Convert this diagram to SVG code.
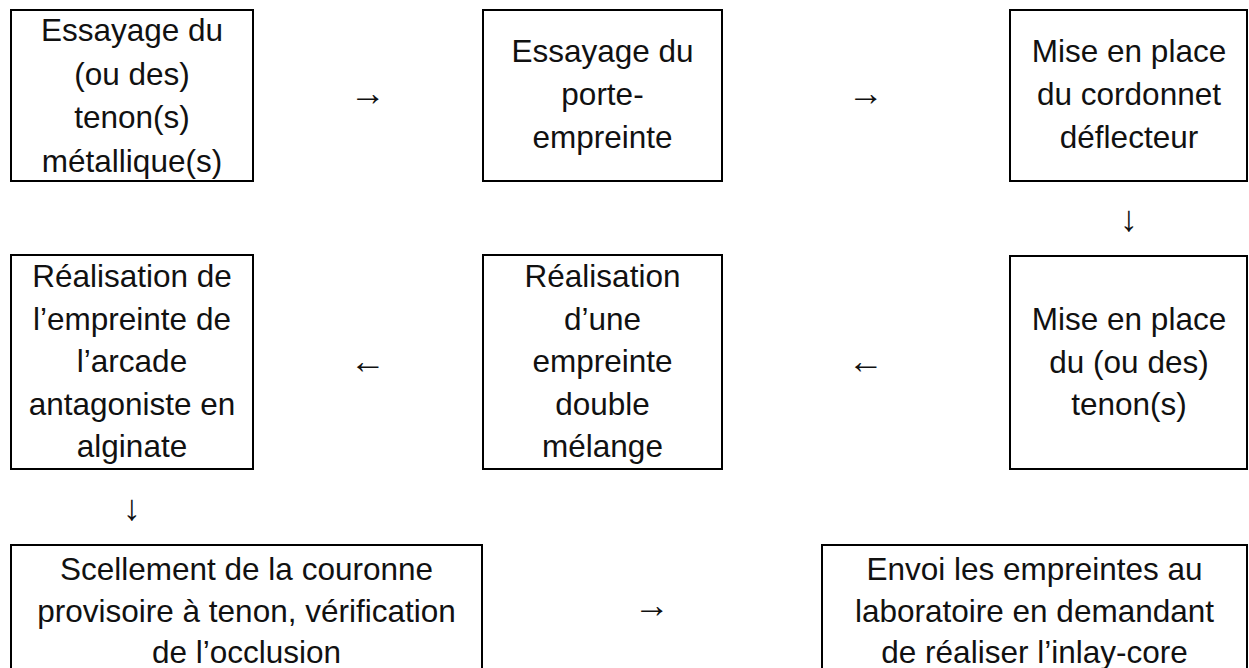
<svg xmlns="http://www.w3.org/2000/svg" width="1249" height="668" viewBox="0 0 1249 668">
  <style>
    .box { fill: #ffffff; stroke: #000000; stroke-width: 2; }
    .lbl { font-family: "Liberation Sans", Arial, sans-serif; font-size: 31.5px; fill: #111111; text-anchor: middle; }
    .arw { font-family: "Liberation Serif", "DejaVu Serif", serif; font-size: 36px; fill: #111111; text-anchor: middle; }
  </style>
  <rect width="1249" height="668" fill="#ffffff"/>

  <!-- Row 1 -->
  <g id="n1">
    <rect class="box" x="11" y="10" width="242" height="171"/>
    <text class="lbl" x="132"><tspan x="132" y="41">Essayage du</tspan><tspan x="132" y="84.5">(ou des)</tspan><tspan x="132" y="128">tenon(s)</tspan><tspan x="132" y="171.5">métallique(s)</tspan></text>
  </g>
  <g id="n2">
    <rect class="box" x="483" y="10" width="239" height="171"/>
    <text class="lbl" x="602.5"><tspan x="602.5" y="62">Essayage du</tspan><tspan x="602.5" y="105">porte-</tspan><tspan x="602.5" y="148">empreinte</tspan></text>
  </g>
  <g id="n3">
    <rect class="box" x="1010" y="10" width="237" height="171"/>
    <text class="lbl" x="1129"><tspan x="1129" y="62">Mise en place</tspan><tspan x="1129" y="105">du cordonnet</tspan><tspan x="1129" y="148">déflecteur</tspan></text>
  </g>

  <!-- Row 2 -->
  <g id="n4">
    <rect class="box" x="11" y="255" width="242" height="214"/>
    <text class="lbl" x="132"><tspan x="132" y="287">Réalisation de</tspan><tspan x="132" y="329.5">l’empreinte de</tspan><tspan x="132" y="372">l’arcade</tspan><tspan x="132" y="414.5">antagoniste en</tspan><tspan x="132" y="457">alginate</tspan></text>
  </g>
  <g id="n5">
    <rect class="box" x="483" y="255" width="239" height="214"/>
    <text class="lbl" x="602.5"><tspan x="602.5" y="287">Réalisation</tspan><tspan x="602.5" y="329.5">d’une</tspan><tspan x="602.5" y="372">empreinte</tspan><tspan x="602.5" y="414.5">double</tspan><tspan x="602.5" y="457">mélange</tspan></text>
  </g>
  <g id="n6">
    <rect class="box" x="1010" y="256" width="237" height="213"/>
    <text class="lbl" x="1129"><tspan x="1129" y="330">Mise en place</tspan><tspan x="1129" y="372.5">du (ou des)</tspan><tspan x="1129" y="415">tenon(s)</tspan></text>
  </g>

  <!-- Row 3 (boxes run past the bottom edge) -->
  <g id="n7">
    <rect class="box" x="11" y="545" width="471" height="140"/>
    <text class="lbl" x="246.5"><tspan x="246.5" y="580">Scellement de la couronne</tspan><tspan x="246.5" y="621.5">provisoire à tenon, vérification</tspan><tspan x="246.5" y="663">de l’occlusion</tspan></text>
  </g>
  <g id="n8">
    <rect class="box" x="822" y="545" width="425" height="140"/>
    <text class="lbl" x="1034.5"><tspan x="1034.5" y="580">Envoi les empreintes au</tspan><tspan x="1034.5" y="621.5">laboratoire en demandant</tspan><tspan x="1034.5" y="663">de réaliser l’inlay-core</tspan></text>
  </g>

  <!-- Connectors: arrow glyphs between steps -->
  <g id="connectors">
    <text class="arw" x="368" y="105">→</text>
    <text class="arw" x="866" y="105">→</text>
    <text class="arw" x="1129" y="231">↓</text>
    <text class="arw" x="866" y="373">←</text>
    <text class="arw" x="368" y="373">←</text>
    <text class="arw" x="132" y="520">↓</text>
    <text class="arw" x="652" y="617">→</text>
  </g>
</svg>
